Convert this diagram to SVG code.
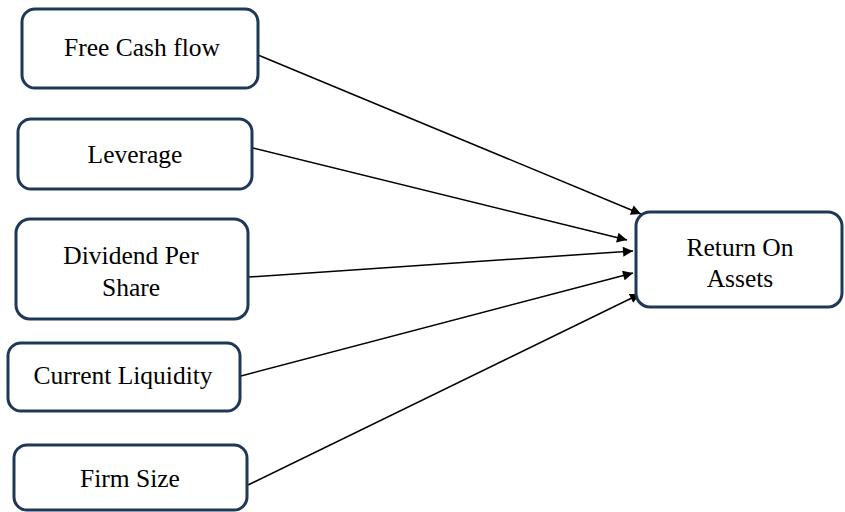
<svg xmlns="http://www.w3.org/2000/svg" width="845" height="512" viewBox="0 0 845 512">
<style>
.box{fill:#fff;stroke:#1f3858;stroke-width:3}
.t{font-family:"Liberation Serif","Times New Roman",serif;font-size:25.5px;fill:#000;text-anchor:middle}
.c{stroke:#000;stroke-width:1.5;fill:none;marker-end:url(#ah)}
</style>
<defs>
<marker id="ah" viewBox="0 0 10 10" refX="10" refY="5" markerWidth="11" markerHeight="10" markerUnits="userSpaceOnUse" orient="auto"><path d="M0,0 L10,5 L0,10 z" fill="#000"/></marker>
</defs>
<rect width="845" height="512" fill="#fff"/>
<g id="connectors">
<line class="c" x1="258" y1="55" x2="641" y2="214"/>
<line class="c" x1="253" y1="148" x2="627" y2="240"/>
<line class="c" x1="249" y1="277" x2="633" y2="251"/>
<line class="c" x1="241" y1="376" x2="633" y2="273"/>
<line class="c" x1="248" y1="485" x2="640" y2="294"/>
</g>
<g id="fcf"><rect class="box" x="22" y="9" width="236" height="79" rx="13"/><text class="t" x="142" y="56">Free Cash flow</text></g>
<g id="lev"><rect class="box" x="18" y="119" width="234" height="70" rx="13"/><text class="t" x="135" y="163">Leverage</text></g>
<g id="dps"><rect class="box" x="16" y="219" width="232" height="100" rx="14"/><text class="t" x="131" y="264">Dividend Per</text><text class="t" x="131" y="296">Share</text></g>
<g id="cl"><rect class="box" x="8" y="343" width="232" height="68" rx="13"/><text class="t" x="123" y="384">Current Liquidity</text></g>
<g id="fs"><rect class="box" x="14" y="445" width="233" height="65" rx="13"/><text class="t" x="130" y="487">Firm Size</text></g>
<g id="roa"><rect class="box" x="636" y="212" width="206" height="95" rx="14"/><text class="t" x="740" y="256">Return On</text><text class="t" x="740" y="287">Assets</text></g>
</svg>
